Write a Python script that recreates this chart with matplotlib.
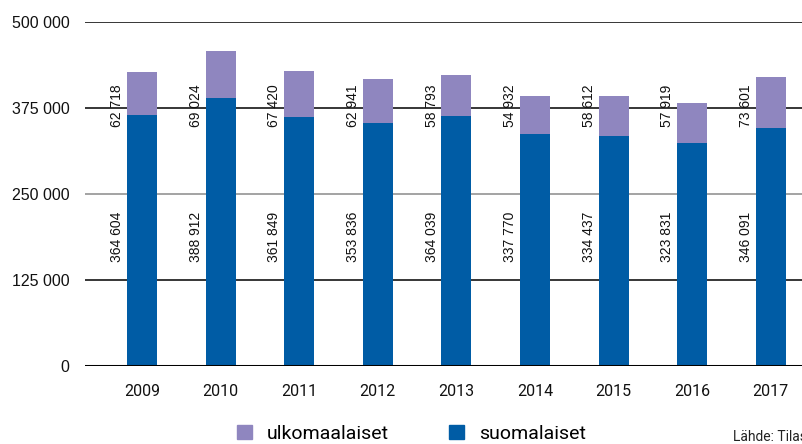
import matplotlib.pyplot as plt
from matplotlib.patches import Patch

# Asukkaat vuosittain: suomalaiset ja ulkomaalaiset
years = ['2009', '2010', '2011', '2012', '2013', '2014', '2015', '2016', '2017']
suomalaiset = [364604, 388912, 361849, 353836, 364039, 337770, 334437, 323831, 346091]
ulkomaalaiset = [62718, 69024, 67420, 62941, 58793, 54932, 58612, 57919, 73601]
yticks = [0, 125000, 250000, 375000, 500000]

blue = '#005ca5'
purple = '#8f86bf'


def fmt(v):
    return f'{v:,}'.replace(',', ' ')


fig = plt.figure(figsize=(8.03, 4.44), dpi=100)
ax = fig.add_axes([85 / 803, 78 / 444, 1 - 85 / 803, 344 / 444])

x = list(range(len(years)))
w = 0.38
ax.bar(x, suomalaiset, width=w, color=blue, zorder=2)
ax.bar(x, ulkomaalaiset, width=w, bottom=suomalaiset, color=purple, zorder=2)

# arvot pystysuoraan pylvään vasemmalle puolelle
for i in x:
    ax.text(i - w / 2 - 0.035, 187500, fmt(suomalaiset[i]), rotation=90,
            ha='right', va='center', fontsize=10, family='Liberation Sans',
            color='#111111', zorder=4)
    ax.text(i - w / 2 - 0.035, 378000, fmt(ulkomaalaiset[i]), rotation=90,
            ha='right', va='center', fontsize=10, family='Liberation Sans',
            color='#111111', zorder=4)

for t in yticks[1:]:
    ax.axhline(t, color='#8a8a8a' if t == 250000 else 'black', lw=1.1, zorder=1)
ax.axhline(0, color='black', lw=2.2, zorder=3)

ax.set_xlim(-0.725, 8.41)
ax.set_ylim(0, 500000)
ax.set_yticks(yticks)
ax.set_yticklabels([fmt(t) for t in yticks], family='Liberation Sans', fontsize=11.5,
                   color='#111111')
ax.set_xticks(x)
ax.set_xticklabels(years, family='Roboto', fontsize=11.5, color='#111111')
ax.tick_params(axis='y', length=0, pad=11)
ax.tick_params(axis='x', length=0, pad=13)
for s in ax.spines.values():
    s.set_visible(False)

handles = [Patch(color=purple, label='ulkomaalaiset'),
           Patch(color=blue, label='suomalaiset')]
fig.legend(handles=handles, loc='center left', bbox_to_anchor=(237 / 803, 10 / 444),
           ncol=2, frameon=False, prop={'family': 'Roboto', 'size': 14},
           handlelength=0.75, handleheight=0.75, handletextpad=0.8,
           columnspacing=3.1, borderpad=0, borderaxespad=0)

fig.text(733 / 803, 0, 'Lähde: Tilastokeskus', family='Roboto', fontsize=10,
         color='#222222', ha='left', va='bottom')

fig.savefig('out.png', dpi=100)
